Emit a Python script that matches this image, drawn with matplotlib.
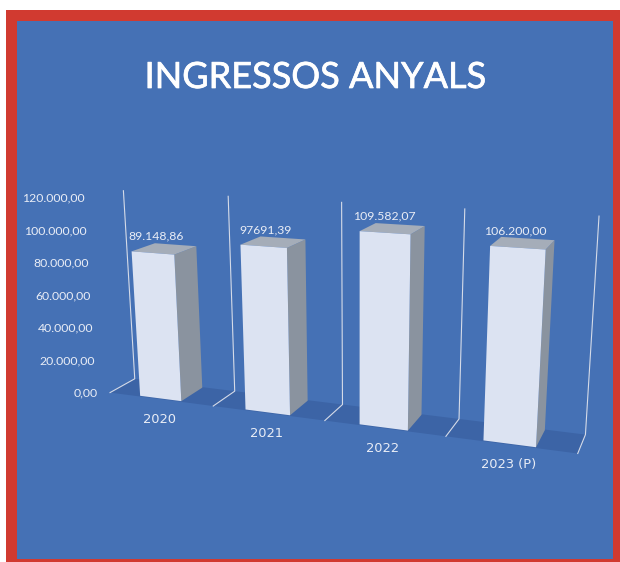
import numpy as np
import matplotlib
matplotlib.use("Agg")
import matplotlib.pyplot as plt
import matplotlib.patheffects as pe
from matplotlib.patches import Polygon, Rectangle

# ---- chart data ----
categories = ["2020", "2021", "2022", "2023 (P)"]
values = [89148.86, 97691.39, 109582.07, 106200.00]
value_labels = ["89.148,86", "97691,39", "109.582,07", "106.200,00"]
tick_values = [0, 20000, 40000, 60000, 80000, 100000, 120000]
tick_labels = ["0,00", "20.000,00", "40.000,00", "60.000,00", "80.000,00", "100.000,00", "120.000,00"]
title = "INGRESSOS ANYALS"

# ---- style ----
RED, BLUE, FLOOR = "#D13A30", "#4571B5", "#3C64A6"
FRONT, SIDE, TOP = "#DCE3F2", "#8A939F", "#A5ADB9"
TXT, WALL = "#E9EDF6", "#D5DBE8"
VMAX = 120000.0

# ---- perspective camera: calibrated from the chart's floor and wall corners ----
# (slot edge, value fraction, depth) -> pixel
cal_world = []
cal_px = []
front_px = [(110, 392.7), (213.3, 406), (324.7, 420.3), (446, 436.7), (577.7, 453.3)]
back_px = [(134.7, 379), (235, 391), (342.3, 404.3), (458.7, 419), (585.7, 434.7)]
high_px = [(123.3, 190.7), (228.3, 196), (341.7, 202.7), (464.7, 209), (599, 216)]
for i in range(5):
    cal_world += [(i, 0, 0), (i, 0, 1), (i, 1, 1)]
    cal_px += [front_px[i], back_px[i], high_px[i]]
rows = []
for (X, Y, Z), (u, v) in zip(cal_world, cal_px):
    rows.append([X, Y, Z, 1, 0, 0, 0, 0, -u * X, -u * Y, -u * Z, -u])
    rows.append([0, 0, 0, 0, X, Y, Z, 1, -v * X, -v * Y, -v * Z, -v])
CAM = np.linalg.svd(np.array(rows, float))[2][-1].reshape(3, 4)


def project(x, value, depth):
    h = CAM @ np.array([x, value / VMAX, depth, 1.0])
    return h[0] / h[2], h[1] / h[2]


fig = plt.figure(figsize=(6.2, 5.62), dpi=100, facecolor="white")
ax = fig.add_axes([0, 0, 1, 1])
ax.set_xlim(0, 620)
ax.set_ylim(562, 0)
ax.axis("off")

ax.add_patch(Rectangle((6, 10), 614, 552, fc=RED, ec="none"))
ax.add_patch(Rectangle((17, 21), 596, 538, fc=BLUE, ec="none"))

n = len(categories)
# floor
ax.add_patch(Polygon([project(0, 0, 0), project(n, 0, 0), project(n, 0, 1), project(0, 0, 1)],
                     fc=FLOOR, ec="none", zorder=2))
# wall / floor lines
for i in range(n + 1):
    pts = [project(i, VMAX, 1), project(i, 0, 1), project(i, 0, 0)]
    ax.plot(*zip(*pts), color=WALL, lw=0.8, zorder=3, solid_joinstyle="miter")

# bars
BX0, BW, BZ0, BZ1 = 0.29, 0.40, 0.04, 0.97
for i, v in enumerate(values):
    a, b = i + BX0, i + BX0 + BW
    ax.add_patch(Polygon([project(b, 0, BZ0), project(b, 0, BZ1), project(b, v, BZ1), project(b, v, BZ0)],
                         fc=SIDE, ec="none", zorder=4))
    ax.add_patch(Polygon([project(a, v, BZ0), project(b, v, BZ0), project(b, v, BZ1), project(a, v, BZ1)],
                         fc=TOP, ec="none", zorder=4))
    ax.add_patch(Polygon([project(a, 0, BZ0), project(b, 0, BZ0), project(b, v, BZ0), project(a, v, BZ0)],
                         fc=FRONT, ec="none", zorder=5))
    px, py = project(i + 0.5, v, 0.5)
    ax.text(px - 9, py - 12.5, value_labels[i], color=TXT, fontsize=8.8, family="Lato",
            ha="center", va="center", zorder=6)
    cx, cy = project(i + 0.5, 0, 0)
    ax.text(cx - 1.5, cy + 20, categories[i], color=TXT, fontsize=9.4, family="DejaVu Sans",
            ha="center", va="center", zorder=6)

# value axis labels follow the left wall's front edge
for tv, tl in zip(tick_values, tick_labels):
    f = tv / VMAX
    x = 97.5 - 13 * f
    y = 393 - 195 * f
    ax.text(x, y, tl, color=TXT, fontsize=8.8, family="Lato", ha="right", va="center", zorder=6)

ax.text(315, 77.5, title, color="white", fontsize=26, family="Lato",
        ha="center", va="center", zorder=6,
        path_effects=[pe.withStroke(linewidth=0.5, foreground="white")])

fig.savefig("out.png", dpi=100)
